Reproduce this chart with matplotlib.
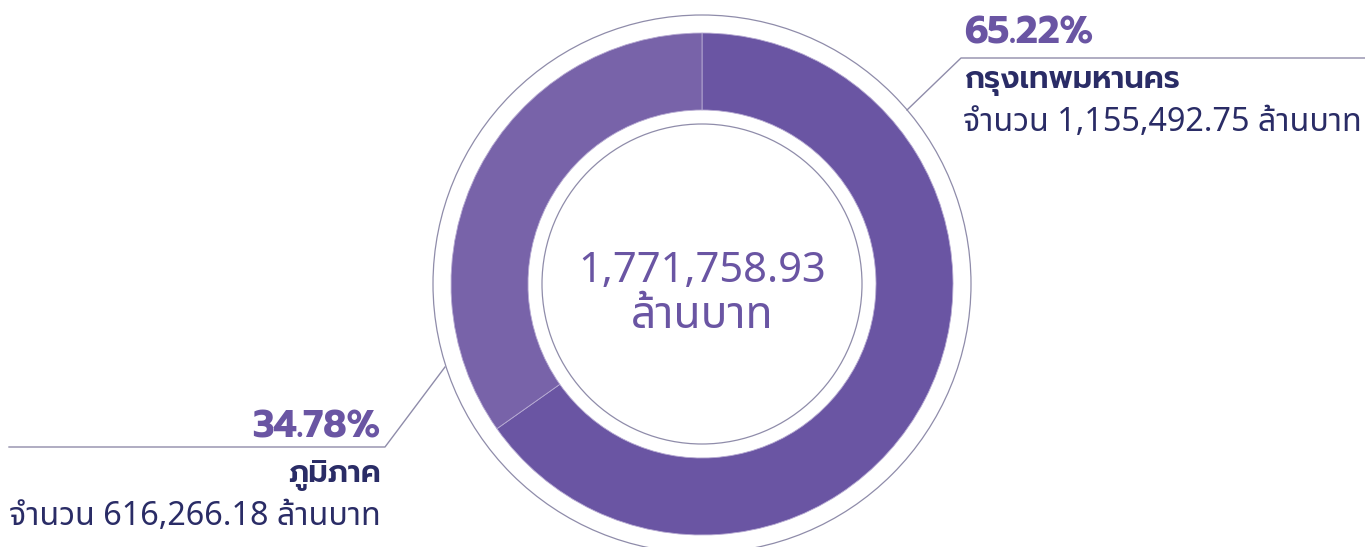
import matplotlib
matplotlib.use('Agg')
import matplotlib.pyplot as plt
from matplotlib.patches import Circle

# Data
labels = ['กรุงเทพมหานคร', 'ภูมิภาค']
amounts = [1155492.75, 616266.18]
percents = [65.22, 34.78]
total = 1771758.93
unit = 'ล้านบาท'

regular = ['Noto Sans Thai', 'DejaVu Sans']
heavy = ['Prompt', 'Noto Sans Thai', 'DejaVu Sans']
plt.rcParams['font.family'] = regular

W, H = 1365, 547
fig = plt.figure(figsize=(W / 100, H / 100), dpi=100)
ax = fig.add_axes([0, 0, 1, 1])

dark = '#6A55A3'
light = '#7863A9'
navy = '#2A2C66'
line_c = '#8F8CAA'

# donut, y measured from the top in pixels
cx, cy = 702, H - 284
ax.pie(percents, colors=[dark, light], startangle=90, counterclock=False,
       center=(cx, cy), radius=251,
       wedgeprops=dict(width=77, edgecolor='#B7ABD3', linewidth=0.6))
ax.add_patch(Circle((cx, cy), 269, fill=False, ec=line_c, lw=0.9))
ax.add_patch(Circle((cx, cy), 160, fill=False, ec=line_c, lw=0.9))

# connectors
ax.plot([907, 961, 1365], [H - 110, H - 58, H - 58], color=line_c, lw=1)
ax.plot([445, 385, 9], [H - 367, H - 447, H - 447], color=line_c, lw=1)

# centre text
ax.text(cx, H - 282, f'{total:,.2f}', ha='center', va='baseline', fontsize=30, color=dark)
ax.text(cx, H - 328, unit, ha='center', va='baseline', fontsize=32, color=dark)

# right label
ax.text(964, H - 43, f'{percents[0]:.2f}%', ha='left', va='baseline', fontsize=27,
        family=heavy, fontweight='bold', color=dark)
ax.text(964, H - 88, labels[0], ha='left', va='baseline', fontsize=22,
        family=heavy, fontweight='semibold', color=navy)
ax.text(963, H - 131, f'จำนวน {amounts[0]:,.2f} {unit}', ha='left', va='baseline',
        fontsize=23.3, color=navy)

# left label
ax.text(380, H - 438, f'{percents[1]:.2f}%', ha='right', va='baseline', fontsize=27,
        family=heavy, fontweight='bold', color=dark)
ax.text(381, H - 482, labels[1], ha='right', va='baseline', fontsize=22,
        family=heavy, fontweight='semibold', color=navy)
ax.text(381, H - 525, f'จำนวน {amounts[1]:,.2f} {unit}', ha='right', va='baseline',
        fontsize=23.3, color=navy)

ax.set_xlim(0, W)
ax.set_ylim(0, H)
ax.set_aspect('equal')
ax.axis('off')
fig.savefig('out.png', dpi=100)
